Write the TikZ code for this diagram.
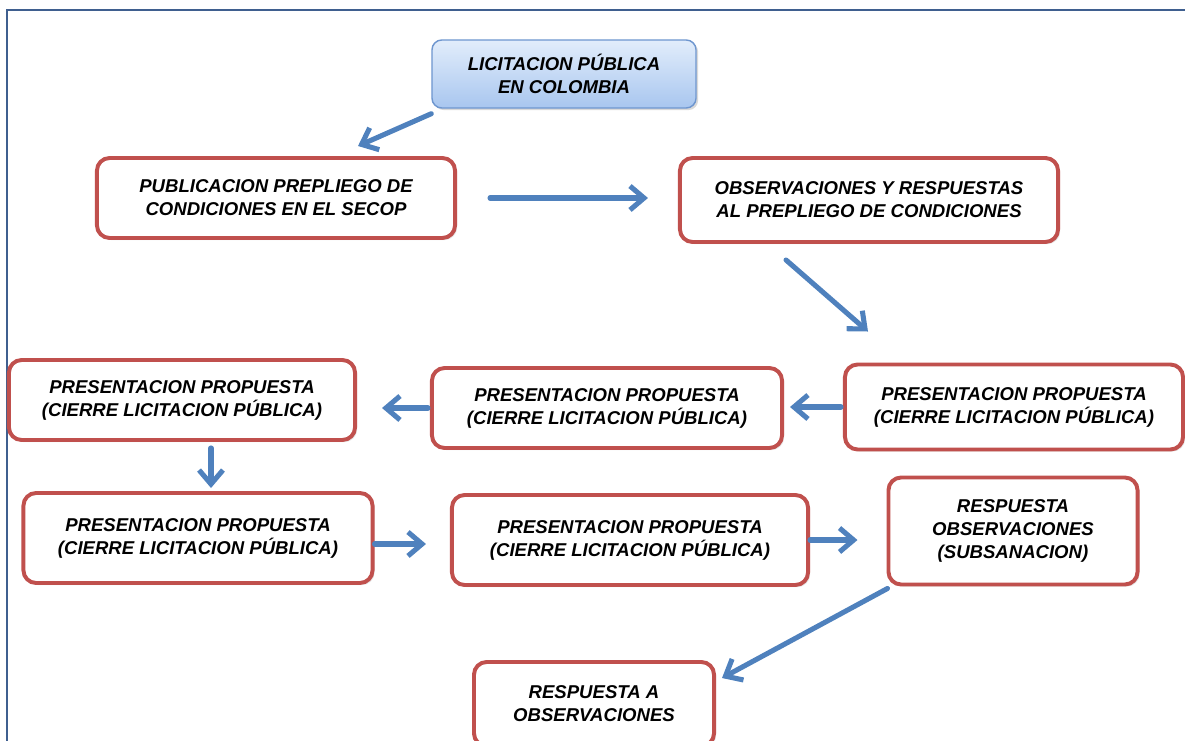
\documentclass[tikz,border=0pt]{standalone}
\usepackage{fontspec}
\setmainfont{Liberation Sans}
\usetikzlibrary{arrows.meta,shadows}

\definecolor{boxRed}{HTML}{C0504D}
\definecolor{flowBlue}{HTML}{4F81BD}
\definecolor{frameBlue}{HTML}{3F5F8F}
\definecolor{topLight}{HTML}{E2EDFB}
\definecolor{topDark}{HTML}{A8C6EF}
\definecolor{topLine}{HTML}{6E96CF}

\def \boxText {\fontsize{13.2}{16.3}\selectfont\bfseries\itshape}

\tikzset{
   stagebox/.style={draw=boxRed, line width=2.8pt, rounded corners=9pt, fill=white,
      align=center, font=\boxText,
      drop shadow={opacity=0.2, shadow xshift=1.5pt, shadow yshift=-1.5pt}},
   titlebox/.style={draw=topLine, line width=1pt, rounded corners=7pt,
      top color=topLight, bottom color=topDark, align=center, font=\boxText,
      drop shadow={opacity=0.3, shadow xshift=1.5pt, shadow yshift=-1.5pt}},
   flow/.style={draw=flowBlue, line width=3.6pt, line cap=round, line join=round,
      -{Straight Barb[length=10pt, width=17pt, line width=3.6pt]}},
}

\begin{document}
\begin{tikzpicture}[x=0.025cm, y=-0.025cm]

      \useasboundingbox (0,0) rectangle (1185,741);
      \clip (0,0) rectangle (1185,741);
      \draw[frameBlue, line width=1.6pt] (7,10) rectangle (1220,780);

      % stages
      \node[titlebox, minimum width=6.6cm, minimum height=1.7cm] (lic) at (564,74)
         {LICITACION PÚBLICA\\EN COLOMBIA};
      \node[stagebox, minimum width=8.95cm, minimum height=2cm] (pub) at (276,198)
         {PUBLICACION PREPLIEGO DE\\CONDICIONES EN EL SECOP};
      \node[stagebox, minimum width=9.45cm, minimum height=2.1cm] (obs) at (869,200)
         {OBSERVACIONES Y RESPUESTAS\\AL PREPLIEGO DE CONDICIONES};
      \node[stagebox, minimum width=8.45cm, minimum height=2.125cm] (presC) at (1014,407)
         {PRESENTACION PROPUESTA\\(CIERRE LICITACION PÚBLICA)};
      \node[stagebox, minimum width=8.75cm, minimum height=2cm] (presB) at (607,408)
         {PRESENTACION PROPUESTA\\(CIERRE LICITACION PÚBLICA)};
      \node[stagebox, minimum width=8.65cm, minimum height=2cm] (presA) at (182,400)
         {PRESENTACION PROPUESTA\\(CIERRE LICITACION PÚBLICA)};
      \node[stagebox, minimum width=8.725cm, minimum height=2.25cm] (presD) at (198,538)
         {PRESENTACION PROPUESTA\\(CIERRE LICITACION PÚBLICA)};
      \node[stagebox, minimum width=8.9cm, minimum height=2.25cm] (presE) at (630,540)
         {PRESENTACION PROPUESTA\\(CIERRE LICITACION PÚBLICA)};
      \node[stagebox, minimum width=6.225cm, minimum height=2.675cm] (subs) at (1013,531)
         {RESPUESTA\\OBSERVACIONES\\(SUBSANACION)};
      \node[stagebox, minimum width=6cm, minimum height=2.1cm] (resp) at (594,704)
         {RESPUESTA A\\OBSERVACIONES};

      % arrows
      \draw[flow] ([yshift=-0.125cm]lic.south west) -- ([xshift=2.05cm, yshift=0.25cm]pub.north);
      \draw[flow, shorten <=0.825cm, shorten >=0.75cm] (pub.east) -- (pub.east -| obs.west);
      \draw[flow] ([xshift=2.7cm, yshift=-0.4cm]obs.south west) -- ([xshift=0.625cm, yshift=0.775cm]presC.north west);
      \draw[flow, shorten <=0.05cm, shorten >=0.15cm] (presC.west) -- (presC.west -| presB.east);
      \draw[flow, shorten <=0.05cm, shorten >=0.625cm] (presB.west) -- (presB.west -| presA.east);
      \draw[flow, shorten <=0.15cm, shorten >=0.075cm] ([xshift=0.725cm]presA.south) -- ([xshift=0.725cm]presA.south |- presD.north);
      \draw[flow, shorten >=0.6cm] ([yshift=-0.15cm]presD.east) -- ([yshift=-0.15cm]presD.east -| presE.west);
      \draw[flow, shorten >=0.725cm] (presE.east) -- (presE.east -| subs.west);
      \draw[flow] ([xshift=0.025cm, yshift=-0.05cm]subs.south west) -- ([xshift=0.15cm, yshift=-0.45cm]resp.north east);

   \end{tikzpicture}
\end{document}
